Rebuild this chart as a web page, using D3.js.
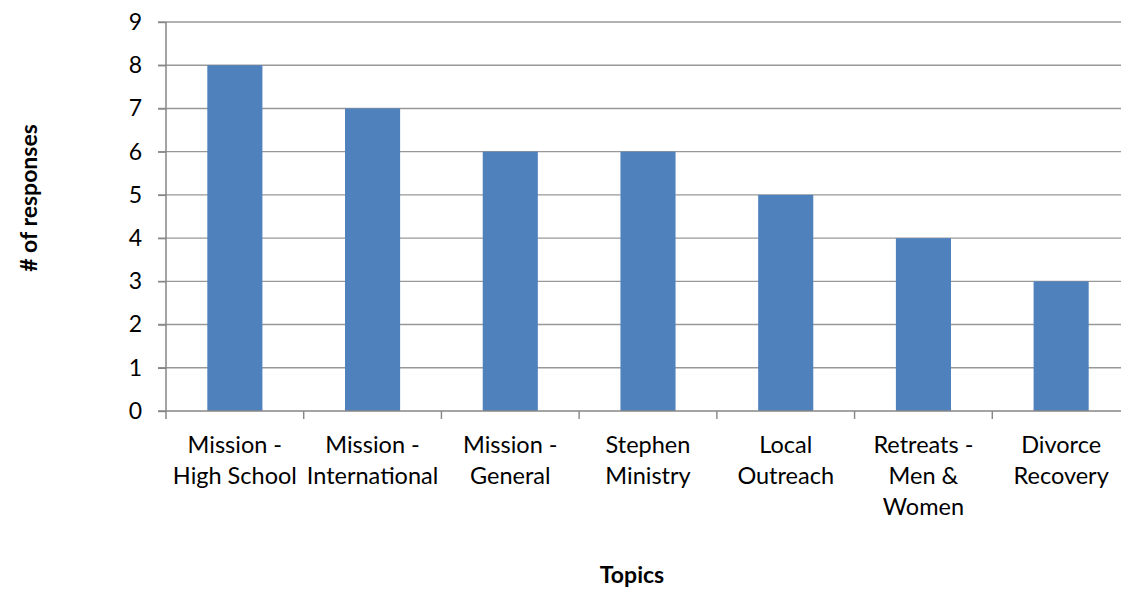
<!DOCTYPE html>
<html><head><meta charset="utf-8">
<script src="https://cdn.jsdelivr.net/npm/d3@7"></script>
<style>body{margin:0;background:#fff;overflow:hidden;} text{font-family:Lato, "Open Sans", sans-serif;fill:#000;}</style>
</head><body>
<svg id="c" width="1121" height="592"></svg>
<script>
const categories = [["Mission -","High School"],["Mission -","International"],["Mission -","General"],["Stephen","Ministry"],["Local","Outreach"],["Retreats -","Men &","Women"],["Divorce","Recovery"]];
const values = [8,7,6,6,5,4,3];
const yTicks = [0,1,2,3,4,5,6,7,8,9];
const xTitle = "Topics";
const yTitle = "# of responses";

const svg = d3.select("#c");
const L=166, R=1130, T=22, B=411;
const x = d3.scaleBand().domain(d3.range(categories.length)).range([L,R]).padding(0);
const y = d3.scaleLinear().domain([0,9]).range([B,T]);

// gridlines
svg.append("g").selectAll("line").data(yTicks.filter(d=>d>0)).join("line")
  .attr("x1",L-8).attr("x2",R).attr("y1",d=>y(d)).attr("y2",d=>y(d))
  .attr("stroke","#989898").attr("stroke-width",1.4);

// bars
const bw = x.bandwidth()*0.4;
svg.append("g").selectAll("rect").data(values).join("rect")
  .attr("x",(d,i)=>x(i)+x.bandwidth()/2-bw/2).attr("width",bw)
  .attr("y",d=>y(d)).attr("height",d=>B-y(d))
  .attr("fill","#4F81BD");

// y axis
const yAxis = d3.axisLeft(y).tickValues(yTicks).tickSize(8).tickPadding(16).tickFormat(d3.format("d"));
const gy = svg.append("g").attr("transform",`translate(${L},0)`).call(yAxis);
gy.select(".domain").attr("stroke","#868686").attr("stroke-width",1.5).attr("d",`M0,${T}V${B+8}`);
gy.selectAll(".tick line").attr("stroke","#868686").attr("stroke-width",1.4);
gy.selectAll(".tick text").style("font-size","23px").attr("fill","#000");

// x axis baseline & ticks
const gx = svg.append("g");
gx.append("line").attr("x1",L-8).attr("x2",R).attr("y1",B).attr("y2",B).attr("stroke","#868686").attr("stroke-width",1.5);
const bounds = d3.range(1,categories.length).map(i=> x(i));
gx.selectAll("line.t").data(bounds).join("line").attr("class","t")
  .attr("x1",d=>d).attr("x2",d=>d).attr("y1",B).attr("y2",B+8).attr("stroke","#868686").attr("stroke-width",1.4);

// x labels
categories.forEach((lines,i)=>{
  const t = svg.append("text").attr("text-anchor","middle").style("font-size","23.5px")
    .attr("x",x(i)+x.bandwidth()/2).attr("y",453);
  lines.forEach((ln,j)=>t.append("tspan").attr("x",x(i)+x.bandwidth()/2).attr("dy",j===0?0:31).text(ln));
});

svg.append("text").attr("x",632).attr("y",583).attr("text-anchor","middle")
  .style("font-size","23px").style("font-weight","bold").text(xTitle);
svg.append("text").attr("transform","translate(37,198) rotate(-90)").attr("text-anchor","middle")
  .style("font-size","23px").style("font-weight","bold").text(yTitle);
</script>
</body></html>
